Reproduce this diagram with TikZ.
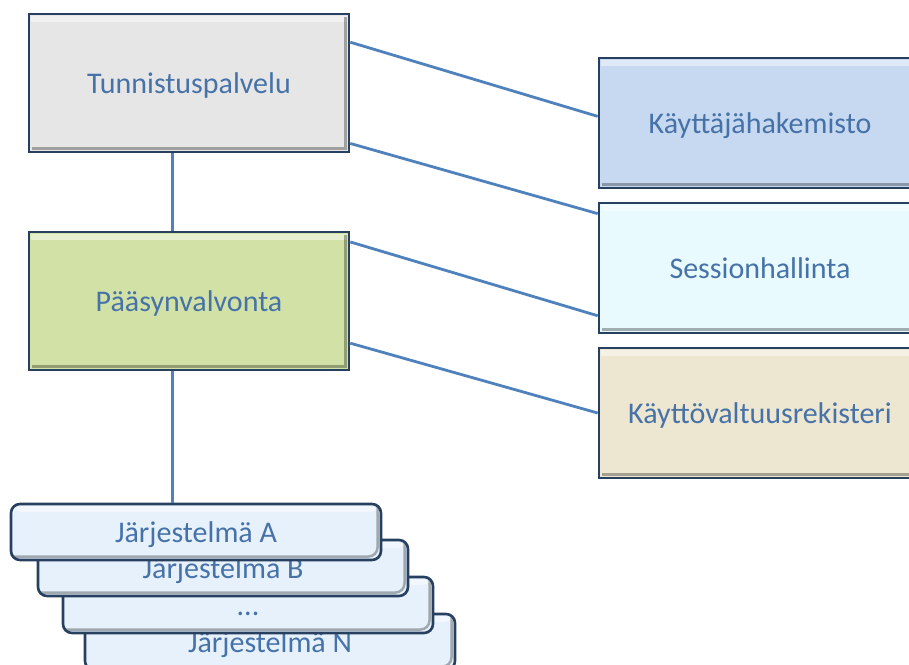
\documentclass[tikz,border=0pt]{standalone}
\usepackage{fontspec}
\setmainfont{Carlito}
\usepackage{tikz}
\usetikzlibrary{calc}

\definecolor{boxline}{HTML}{27405F}
\definecolor{linkblue}{HTML}{4F81BD}
\definecolor{txtblue}{HTML}{4672A8}
\definecolor{grayfill}{HTML}{E6E6E6}
\definecolor{greenfill}{HTML}{D2E2A6}
\definecolor{bluefill}{HTML}{C6D9F1}
\definecolor{cyanfill}{HTML}{E8FAFE}
\definecolor{beigefill}{HTML}{EDE6D0}
\definecolor{sysfill}{HTML}{E6F1FC}

\begin{document}
\begin{tikzpicture}[x=1pt,y=-1pt,
		box/.style={draw=boxline,line width=2.6pt,text=txtblue,inner sep=0pt,
			font=\fontsize{30}{36}\selectfont,text height=26pt,text depth=5pt,
			path picture={
				\fill[white,opacity=.45] ([xshift=2pt,yshift=-2pt]path picture bounding box.north west) rectangle ([xshift=-2pt,yshift=-8pt]path picture bounding box.north east);
				\draw[black,opacity=.3,line width=2.5pt] ([xshift=3pt,yshift=3.5pt]path picture bounding box.south west) -- ([xshift=-3.5pt,yshift=3.5pt]path picture bounding box.south east) -- ([xshift=-3.5pt,yshift=-3pt]path picture bounding box.north east);
		}},
		bigbox/.style={box,minimum width=320pt,minimum height=138pt},
		sidebox/.style={box,minimum width=322pt,minimum height=130pt},
		sysbox/.style={box,fill=sysfill,rounded corners=9pt,minimum width=370pt,minimum height=56pt},
		link/.style={linkblue,line width=2.8pt}]
		\useasboundingbox (0,0) rectangle (909,664);
		\clip (0,0) rectangle (909,664);
		
		% LEFT: main services
		\node[bigbox,fill=grayfill] (tunn) at (189,83) {Tunnistuspalvelu};
		\node[bigbox,fill=greenfill] (paas) at (189,301) {Pääsynvalvonta};
		
		% RIGHT: registers
		\node[sidebox,fill=bluefill] (kayt) at (760,123) {Käyttäjähakemisto};
		\node[sidebox,fill=cyanfill] (sess) at (760,268) {Sessionhallinta};
		\node[sidebox,fill=beigefill] (valt) at (760,413) {Käyttövaltuusrekisteri};
		
		% BOTTOM: stacked systems, last one drawn on top
		\node[sysbox] (sysN) at (270,642) {Järjestelmä N};
		\node[sysbox] (sysD) at (248,605) {...};
		\node[sysbox] (sysB) at (223,568) {Järjestelmä B};
		\node[sysbox] (sysA) at (196,532) {Järjestelmä A};
		
		% connectors
		\coordinate (tdown) at ($(tunn.south west)!.45!(tunn.south east)$);
		\coordinate (pdown) at ($(paas.south west)!.45!(paas.south east)$);
		\draw[link] (tdown) -- (tdown |- paas.north);
		\draw[link] (pdown) -- (pdown |- sysA.north);
		\draw[link] ($(tunn.north east)!.21!(tunn.south east)$) -- ($(kayt.north west)!.45!(kayt.south west)$);
		\draw[link] ($(tunn.north east)!.93!(tunn.south east)$) -- ($(sess.north west)!.09!(sess.south west)$);
		\draw[link] ($(paas.north east)!.08!(paas.south east)$) -- ($(sess.north west)!.86!(sess.south west)$);
		\draw[link] ($(paas.north east)!.80!(paas.south east)$) -- (valt.west);
	\end{tikzpicture}
\end{document}
